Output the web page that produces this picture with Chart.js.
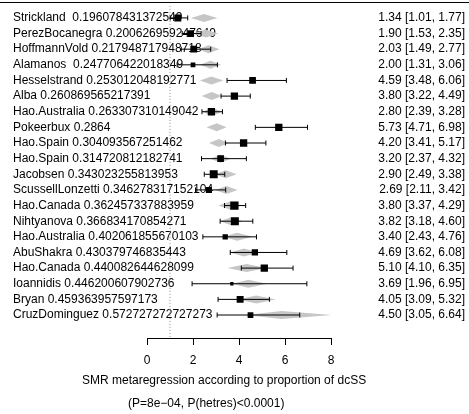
<!DOCTYPE html>
<html>
<head>
<meta charset="utf-8">
<script src="https://cdn.jsdelivr.net/npm/chart.js@4/dist/chart.umd.min.js"></script>
<style>
  html, body { margin: 0; padding: 0; background: #fff; }
  #wrap { width: 469px; height: 414px; }
</style>
</head>
<body>
<div id="wrap"><canvas id="forest" width="469" height="414"></canvas></div>
<script>
const studies = ["Strickland ", "PerezBocanegra", "HoffmannVold", "Alamanos ", "Hesselstrand", "Alba",
  "Hao.Australia", "Pokeerbux", "Hao.Spain", "Hao.Spain", "Jacobsen", "ScussellLonzetti",
  "Hao.Canada", "Nihtyanova", "Hao.Australia", "AbuShakra", "Hao.Canada", "Ioannidis", "Bryan", "CruzDominguez"];
const proportions = [0.196078431372549, 0.200626959247649, 0.217948717948718, 0.247706422018349, 0.253012048192771,
  0.260869565217391, 0.263307310149042, 0.2864, 0.304093567251462, 0.314720812182741, 0.343023255813953,
  0.346278317152104, 0.362457337883959, 0.366834170854271, 0.402061855670103, 0.430379746835443,
  0.440082644628099, 0.446200607902736, 0.459363957597173, 0.572727272727273];
const smr = [1.34, 1.90, 2.03, 2.00, 4.59, 3.80, 2.80, 5.73, 4.20, 3.20, 2.90, 2.69, 3.80, 3.82, 3.40, 4.69, 5.10, 3.69, 4.05, 4.50];
const ciLow = [1.01, 1.53, 1.49, 1.31, 3.48, 3.22, 2.39, 4.71, 3.41, 2.37, 2.49, 2.11, 3.37, 3.18, 2.43, 3.62, 4.10, 1.96, 3.09, 3.05];
const ciHigh = [1.77, 2.35, 2.77, 3.06, 6.06, 4.49, 3.28, 6.98, 5.17, 4.32, 3.38, 3.42, 4.29, 4.60, 4.76, 6.08, 6.35, 6.95, 5.32, 6.64];
const weights = [0.84, 0.81, 0.81, 0.57, 0.81, 0.88, 0.88, 0.88, 0.88, 0.81, 0.96, 0.72, 1.0, 0.96, 0.64, 0.76, 0.88, 0.40, 0.84, 0.69];
// metaregression predictions (grey diamonds)
const fitted = [2.48, 2.55, 2.68, 2.76, 2.80, 2.82, 2.84, 3.03, 3.12, 3.20, 3.42, 3.45, 3.60, 3.65, 3.92, 4.22, 4.33, 4.41, 4.75, 5.86];
const fittedLow = [1.91, 2.00, 2.22, 2.30, 2.30, 2.38, 2.40, 2.59, 2.70, 2.75, 2.95, 2.97, 3.10, 3.17, 3.30, 3.60, 3.50, 3.70, 3.95, 4.30];
const fittedHigh = [3.06, 3.10, 3.15, 3.22, 3.32, 3.25, 3.28, 3.46, 3.55, 3.65, 3.90, 3.94, 4.10, 4.15, 4.60, 4.85, 5.20, 5.20, 5.60, 8.03];
const xTicks = [0, 2, 4, 6, 8];
const refValue = 1;
const xTitle = "SMR metaregression according to proportion of dcSS";
const xSubtitle = "(P=8e\u221204, P(hetres)<0.0001)";

const FONT = "'Liberation Sans', Arial, sans-serif";
const rows = studies.map((_, i) => i);
const leftLabels = studies.map((s, i) => s + " " + String(proportions[i]));
const rightLabels = smr.map((v, i) => v.toFixed(2) + " [" + ciLow[i].toFixed(2) + ", " + ciHigh[i].toFixed(2) + "]");
const yMin = -0.77;
const yMax = 20.47;

const diamondPlugin = {
  id: "diamonds",
  beforeDatasetsDraw(chart) {
    const { ctx, scales: { x, y } } = chart;
    ctx.save();
    ctx.fillStyle = "#c6c6c6";
    fitted.forEach((c, i) => {
      const py = y.getPixelForValue(i);
      const px = x.getPixelForValue(c);
      ctx.beginPath();
      ctx.moveTo(x.getPixelForValue(fittedLow[i]), py);
      ctx.lineTo(px, py - 4);
      ctx.lineTo(x.getPixelForValue(fittedHigh[i]), py);
      ctx.lineTo(px, py + 4);
      ctx.closePath();
      ctx.fill();
    });
    ctx.restore();
  },
};

const captionPlugin = {
  id: "captions",
  afterDraw(chart) {
    const ctx = chart.ctx;
    ctx.save();
    ctx.strokeStyle = "#000";
    ctx.lineWidth = 1;
    ctx.beginPath();
    ctx.moveTo(0, 2.5);
    ctx.lineTo(chart.width, 2.5);
    ctx.stroke();
    ctx.fillStyle = "#000";
    ctx.font = "12px " + FONT;
    ctx.textAlign = "left";
    ctx.textBaseline = "middle";
    ctx.fillText(xTitle, 82, 381);
    ctx.fillText(xSubtitle, 128, 404);
    ctx.restore();
  },
};

// left labels: mirrored ticks pulled back to the page edge, so they are not clipped
// to the axis box and may run over the plot like in the original
function sideAxis(position, labels, tickOpts) {
  return {
    type: "linear",
    position: position,
    reverse: true,
    min: yMin,
    max: yMax,
    afterBuildTicks(scale) {
      scale.ticks = rows.map((v) => ({ value: v }));
    },
    afterFit(scale) {
      scale.width = 134;
      scale.paddingTop = 0;
      scale.paddingBottom = 0;
    },
    ticks: Object.assign({
      autoSkip: false,
      color: "#000",
      font: { family: FONT, size: 12 },
      callback: (v) => labels[v],
    }, tickOpts),
    grid: { display: false },
    border: { display: false },
  };
}

const datasets = [
  {
    label: "SMR",
    data: smr.map((v, i) => ({ x: v, y: i })),
    pointStyle: "rect",
    pointRadius: weights.map((w) => (8.3 * w) / Math.SQRT2),
    pointBorderWidth: 0,
    backgroundColor: "#000",
    borderColor: "#000",
  },
];
studies.forEach((_, i) => {
  datasets.push({
    label: "ci" + i,
    data: [{ x: ciLow[i], y: i }, { x: ciHigh[i], y: i }],
    showLine: true,
    borderColor: "#000",
    borderWidth: 1,
    pointStyle: "line",
    pointRotation: 90,
    pointRadius: 2.5,
    pointBorderColor: "#000",
    pointBorderWidth: 1,
  });
});
datasets.push({
  label: "ref",
  data: [{ x: refValue, y: yMin }, { x: refValue, y: yMax }],
  showLine: true,
  borderColor: "#8a8a8a",
  borderWidth: 1,
  borderDash: [1, 2],
  pointRadius: 0,
});

new Chart(document.getElementById("forest").getContext("2d"), {
  type: "scatter",
  data: { datasets },
  options: {
    responsive: false,
    devicePixelRatio: 1,
    animation: false,
    layout: { padding: { left: 13, right: 4, top: 5, bottom: 0 } },
    plugins: {
      legend: { display: false },
      tooltip: { enabled: false },
    },
    scales: {
      x: {
        type: "linear",
        position: "bottom",
        min: xTicks[0],
        max: xTicks[xTicks.length - 1],
        afterBuildTicks(scale) {
          scale.ticks = xTicks.map((v) => ({ value: v }));
        },
        afterFit(scale) {
          scale.height = 76;
        },
        ticks: {
          color: "#000",
          padding: 8,
          font: { family: FONT, size: 12 },
        },
        grid: { drawOnChartArea: false, drawTicks: true, tickLength: 7, color: "#000" },
        border: { color: "#000" },
      },
      y: sideAxis("left", leftLabels, { mirror: true, padding: -134, crossAlign: "near" }),
      y2: sideAxis("right", rightLabels, { padding: 0, crossAlign: "far" }),
    },
  },
  plugins: [diamondPlugin, captionPlugin],
});
</script>
</body>
</html>
